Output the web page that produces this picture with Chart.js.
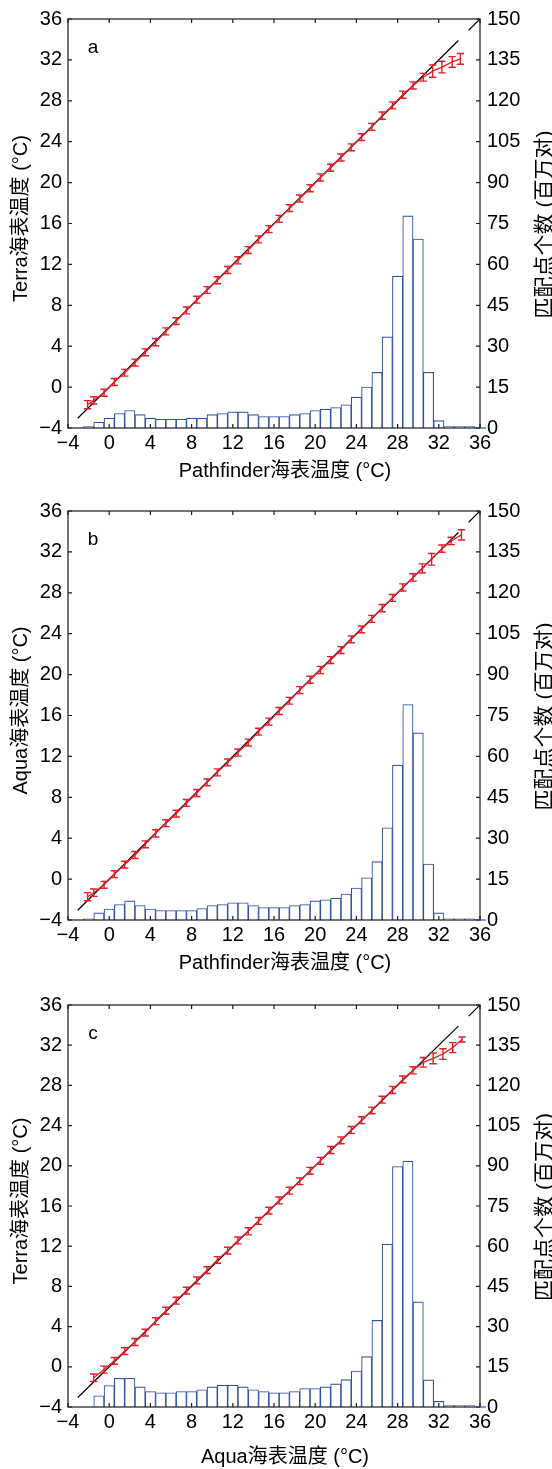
<!DOCTYPE html>
<html><head><meta charset="utf-8">
<script src="https://cdn.jsdelivr.net/npm/chart.js@4"></script>
<style>
html,body{margin:0;padding:0;background:#fff;}
body{width:552px;height:1469px;position:relative;overflow:hidden;}
canvas{position:absolute;left:0;}
</style></head><body>
<canvas id="ca" width="552" height="490" style="top:0px"></canvas>
<canvas id="cb" width="552" height="490" style="top:492px"></canvas>
<canvas id="cc" width="552" height="483" style="top:986px"></canvas>
<script>
// ---- tick values ----
const xTicks = [-4, 0, 4, 8, 12, 16, 20, 24, 28, 32, 36];
const yTicks = [-4, 0, 4, 8, 12, 16, 20, 24, 28, 32, 36];
const y2Ticks = [0, 15, 30, 45, 60, 75, 90, 105, 120, 135, 150];

// ---- histogram bins (°C, bin centres) ----
const binCenters = [-2,-1,0,1,2,3,4,5,6,7,8,9,10,11,12,13,14,15,16,17,18,19,20,21,22,23,24,25,26,27,28,29,30,31,32,33,34,35];
const histA = [0.5,2.1,3.6,5.3,6.4,4.9,3.6,3.2,3.2,3.2,3.6,3.6,4.9,5.3,5.9,5.9,4.9,4.2,4.2,4.2,4.9,5.3,6.4,6.9,7.5,8.5,11.3,15.0,20.4,33.4,55.7,77.8,69.3,20.4,2.7,0.5,0.5,0.5];
const histB = [0.4,2.6,4.0,5.7,7.0,5.3,4.0,3.5,3.5,3.5,3.5,4.2,5.3,5.7,6.3,6.3,5.3,4.6,4.6,4.6,5.3,5.7,7.0,7.4,8.0,9.5,11.7,15.5,21.4,33.8,56.8,79.0,68.6,20.5,2.6,0.4,0.4,0.4];
const histC = [null,4.2,8.0,10.7,10.7,7.5,5.8,5.3,5.3,5.8,5.8,6.4,7.5,8.1,8.1,7.5,6.4,5.8,5.3,5.3,5.8,6.9,6.9,7.5,8.6,10.2,13.4,18.8,32.3,60.7,89.7,91.7,39.2,10.1,2.1,0.5,0.5,0.5];

// ---- mean SST per bin with error bars ----
const xA = [-2.1,-1.5,-0.5,0.5,1.5,2.5,3.5,4.5,5.5,6.5,7.5,8.5,9.5,10.5,11.5,12.5,13.5,14.5,15.5,16.5,17.5,18.5,19.5,20.5,21.5,22.5,23.5,24.5,25.5,26.5,27.5,28.5,29.5,30.5,31.4,32.3,33.3,34.1];
const yA = [-1.72,-1.3,-0.55,0.5,1.4,2.4,3.4,4.4,5.45,6.45,7.5,8.55,9.5,10.45,11.45,12.4,13.4,14.45,15.45,16.45,17.5,18.45,19.45,20.5,21.45,22.45,23.45,24.45,25.45,26.55,27.55,28.6,29.5,30.3,30.9,31.3,31.8,32.1];
const errA = [0.4,0.36,0.34,0.34,0.33,0.34,0.34,0.35,0.34,0.33,0.34,0.34,0.33,0.34,0.34,0.35,0.34,0.34,0.34,0.34,0.33,0.34,0.34,0.35,0.34,0.34,0.34,0.33,0.34,0.35,0.34,0.35,0.35,0.38,0.6,0.57,0.52,0.52];

const xB = [-2.1,-1.5,-0.5,0.5,1.5,2.5,3.5,4.5,5.5,6.5,7.5,8.5,9.5,10.5,11.5,12.5,13.5,14.5,15.5,16.5,17.5,18.5,19.5,20.5,21.5,22.5,23.5,24.5,25.5,26.5,27.5,28.5,29.5,30.4,31.3,32.3,33.2,34.2];
const yB = [-1.72,-1.33,-0.56,0.48,1.42,2.36,3.40,4.47,5.47,6.41,7.45,8.42,9.46,10.44,11.41,12.38,13.35,14.42,15.40,16.44,17.44,18.48,19.5,20.45,21.42,22.4,23.45,24.42,25.45,26.5,27.5,28.52,29.5,30.38,31.28,32.32,33.07,33.66];
const errB = [0.4,0.36,0.34,0.34,0.33,0.34,0.34,0.35,0.34,0.33,0.34,0.34,0.33,0.34,0.34,0.35,0.34,0.34,0.34,0.34,0.33,0.34,0.34,0.35,0.34,0.34,0.34,0.33,0.34,0.35,0.34,0.35,0.36,0.45,0.57,0.36,0.36,0.5];

const xC = [-1.5,-0.5,0.5,1.5,2.5,3.5,4.5,5.5,6.5,7.5,8.5,9.5,10.5,11.5,12.5,13.5,14.5,15.5,16.5,17.5,18.5,19.5,20.5,21.5,22.5,23.5,24.5,25.5,26.5,27.5,28.5,29.5,30.5,31.45,32.4,33.35,34.25];
const yC = [-1.09,-0.28,0.59,1.56,2.47,3.40,4.54,5.58,6.58,7.58,8.59,9.62,10.63,11.56,12.57,13.48,14.51,15.54,16.55,17.52,18.46,19.5,20.5,21.57,22.54,23.57,24.54,25.51,26.58,27.55,28.59,29.50,30.30,30.69,31.12,31.76,32.57];
const errC = [0.37,0.35,0.34,0.34,0.35,0.34,0.34,0.35,0.34,0.33,0.34,0.34,0.33,0.34,0.34,0.35,0.34,0.34,0.34,0.34,0.33,0.34,0.34,0.35,0.34,0.34,0.34,0.33,0.34,0.35,0.34,0.35,0.48,0.53,0.53,0.5,0.25];

// ---- 1:1 reference line ----
const oneX = [-3.05, 33.9, 34.4, 34.9, 36];
const oneY = [-3.05, 33.9, null, 34.9, 36];

const FONT = '"Liberation Sans", Arial, "Noto Sans CJK SC", sans-serif';
const RED = '#e41f28';
const BLUE = '#2d51a3';

const panels = [
  {canvas:'ca', letter:'a', xs:xA, ys:yA, errs:errA, hist:histA, xTitle:'Pathfinder海表温度 (°C)', yTitle:'Terra海表温度 (°C)'},
  {canvas:'cb', letter:'b', xs:xB, ys:yB, errs:errB, hist:histB, xTitle:'Pathfinder海表温度 (°C)', yTitle:'Aqua海表温度 (°C)'},
  {canvas:'cc', letter:'c', xs:xC, ys:yC, errs:errC, hist:histC, xTitle:'Aqua海表温度 (°C)', yTitle:'Terra海表温度 (°C)'}
];
const y2Title = '匹配点个数 (百万对)';

const fmt = v => String(v).replace('-', '\u2212');

const decor = {
  id: 'decor',
  afterDatasetsDraw(chart, args, opts) {
    const {ctx, scales} = chart;
    ctx.save();
    chart.data.datasets.forEach(ds => {
      if (!ds.errors) return;
      ctx.strokeStyle = ds.borderColor;
      ctx.lineWidth = 1.4;
      ds.data.forEach((p, i) => {
        const x = scales.x.getPixelForValue(p.x);
        const ya = scales.y.getPixelForValue(p.y - ds.errors[i]);
        const yb = scales.y.getPixelForValue(p.y + ds.errors[i]);
        ctx.beginPath();
        ctx.moveTo(x, ya); ctx.lineTo(x, yb);
        ctx.moveTo(x - 3.7, ya); ctx.lineTo(x + 3.7, ya);
        ctx.moveTo(x - 3.7, yb); ctx.lineTo(x + 3.7, yb);
        ctx.stroke();
      });
    });
    ctx.restore();
  },
  afterDraw(chart, args, opts) {
    const {ctx, chartArea: a, scales} = chart;
    ctx.save();
    // frame
    ctx.strokeStyle = '#1a1a1a';
    ctx.lineWidth = 1.2;
    ctx.strokeRect(a.left, a.top, a.right - a.left, a.bottom - a.top);
    // inward ticks
    ctx.beginPath();
    xTicks.forEach(v => {
      const x = scales.x.getPixelForValue(v);
      ctx.moveTo(x, a.bottom); ctx.lineTo(x, a.bottom - 4);
      ctx.moveTo(x, a.top); ctx.lineTo(x, a.top + 4);
    });
    yTicks.forEach(v => {
      const y = scales.y.getPixelForValue(v);
      ctx.moveTo(a.left, y); ctx.lineTo(a.left + 4, y);
    });
    y2Ticks.forEach(v => {
      const y = scales.y2.getPixelForValue(v);
      ctx.moveTo(a.right, y); ctx.lineTo(a.right - 4, y);
    });
    ctx.stroke();
    // blue baseline stub on the count axis
    ctx.strokeStyle = BLUE;
    ctx.beginPath();
    const y0 = scales.y2.getPixelForValue(0);
    ctx.moveTo(a.right - 4, y0); ctx.lineTo(a.right + 6, y0);
    ctx.stroke();
    // titles
    ctx.fillStyle = '#000';
    ctx.font = '20px ' + FONT;
    ctx.textAlign = 'center';
    ctx.textBaseline = 'middle';
    const cy = (a.top + a.bottom) / 2;
    ctx.fillText(opts.xTitle, (a.left + a.right) / 2 + 11, 471);
    ctx.save();
    ctx.translate(21, cy - 5);
    ctx.rotate(-Math.PI / 2);
    ctx.fillText(opts.yTitle, 0, 0);
    ctx.restore();
    ctx.save();
    ctx.font = '21px ' + FONT;
    ctx.translate(545, cy + 1);
    ctx.rotate(-Math.PI / 2);
    ctx.fillText(y2Title, 0, 0);
    ctx.restore();
    // panel letter
    ctx.font = '19px ' + FONT;
    ctx.textBaseline = 'alphabetic';
    ctx.fillText(opts.letter, a.left + 25, a.top + 34);
    ctx.restore();
  }
};

panels.forEach(p => {
  const tickFont = {family: FONT, size: 20};
  new Chart(document.getElementById(p.canvas), {
    type: 'bar',
    data: {
      datasets: [
        {
          type: 'line',
          data: p.xs.map((x, i) => ({x: x, y: p.ys[i]})),
          errors: p.errs,
          borderColor: RED, borderWidth: 1.3, pointRadius: 0,
          tension: 0, yAxisID: 'y', order: 0
        },
        {
          type: 'line',
          data: oneX.map((x, i) => ({x: x, y: oneY[i]})),
          borderColor: '#000', borderWidth: 1.2, pointRadius: 0,
          spanGaps: false, tension: 0, yAxisID: 'y', order: 1
        },
        {
          type: 'bar',
          data: binCenters.map((c, i) => ({x: c, y: p.hist[i]})),
          backgroundColor: '#ffffff', borderColor: BLUE, borderWidth: 1.1,
          barPercentage: 1, categoryPercentage: 1,
          yAxisID: 'y2', order: 2
        }
      ]
    },
    options: {
      responsive: false,
      devicePixelRatio: 1,
      animation: false,
      layout: {padding: {top: 16, left: 0, right: 0, bottom: 0}},
      plugins: {legend: {display: false}, tooltip: {enabled: false},
        decor: {letter: p.letter, xTitle: p.xTitle, yTitle: p.yTitle}},
      scales: {
        x: {
          type: 'linear', min: -4, max: 36, offset: false,
          afterBuildTicks: s => { s.ticks = xTicks.map(v => ({value: v})); },
          ticks: {callback: fmt, font: tickFont, color: '#000', padding: 3, maxRotation: 0, autoSkip: false},
          grid: {display: false, drawTicks: false}, border: {display: false},
          afterFit: s => { s.height = 62; }
        },
        y: {
          type: 'linear', position: 'left', min: -4, max: 36,
          afterBuildTicks: s => { s.ticks = yTicks.map(v => ({value: v})); },
          ticks: {callback: fmt, font: tickFont, color: '#000', padding: 6, autoSkip: false},
          grid: {display: false, drawTicks: false}, border: {display: false},
          afterFit: s => { s.width = 68; }
        },
        y2: {
          type: 'linear', position: 'right', min: 0, max: 150,
          afterBuildTicks: s => { s.ticks = y2Ticks.map(v => ({value: v})); },
          ticks: {callback: fmt, font: tickFont, color: '#000', padding: 7, autoSkip: false},
          grid: {display: false, drawTicks: false}, border: {display: false},
          afterFit: s => { s.width = 72; }
        }
      }
    },
    plugins: [decor]
  });
});
</script>
</body></html>
